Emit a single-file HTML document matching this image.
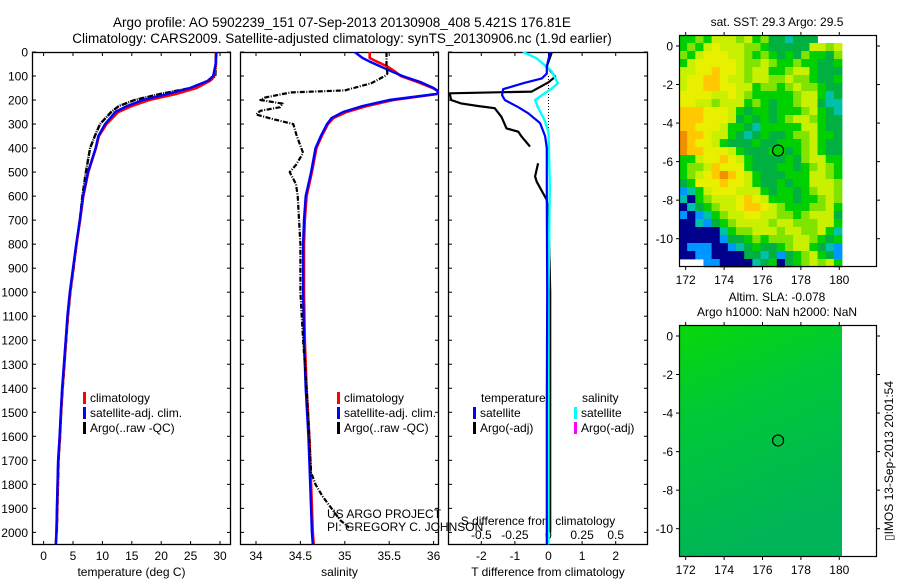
<!DOCTYPE html>
<html><head><meta charset="utf-8">
<style>
html,body{margin:0;padding:0;background:#fff;}
svg{display:block;font-family:"Liberation Sans",sans-serif;}
text{fill:#000;}
</style></head>
<body>
<svg id="chart" width="900" height="580" viewBox="0 0 900 580" xmlns="http://www.w3.org/2000/svg">
<text x="342" y="27" font-size="13.5" text-anchor="middle">Argo profile: AO 5902239_151 07-Sep-2013 20130908_408 5.421S 176.81E</text>
<text x="342" y="43" font-size="13.5" text-anchor="middle">Climatology: CARS2009. Satellite-adjusted climatology: synTS_20130906.nc (1.9d earlier)</text>
<text x="777" y="26" font-size="12" text-anchor="middle">sat. SST: 29.3 Argo: 29.5</text>
<text x="777" y="301" font-size="12" text-anchor="middle">Altim. SLA: -0.078</text>
<text x="777" y="316" font-size="12" text-anchor="middle">Argo h1000: NaN h2000: NaN</text>
<text transform="translate(893,461) rotate(-90)" font-size="12" text-anchor="middle">▯IMOS 13-Sep-2013 20:01:54</text>
<g id="g"></g>
</svg>
<script>
// ---- data ----
const depthTicks = [0,100,200,300,400,500,600,700,800,900,1000,1100,1200,1300,1400,1500,1600,1700,1800,1900,2000];
const tempTicks = [0,5,10,15,20,25,30];
const salTicks = [34,34.5,35,35.5,36];
const salTickLabels = ["34","34.5","35","35.5","36"];
const tdiffTicks = [-2,-1,0,1,2];
const sdiffTicks = [-0.5,-0.25,0,0.25,0.5];
const sdiffTickLabels = ["-0.5","-0.25","0","0.25","0.5"];

const depthsT = [0,50,100,120,150,175,200,225,250,300,350,400,500,600,700,800,900,1000,1100,1200,1300,1400,1500,1600,1700,1800,1900,2000,2050];
const climT = [29.3,29.3,29.0,28.3,26.0,22.5,18.0,15.0,12.7,10.7,9.4,8.9,7.6,6.75,6.2,5.6,5.05,4.5,4.1,3.8,3.5,3.2,2.96,2.75,2.5,2.4,2.3,2.2,2.1];
const satT = [29.35,29.25,28.85,27.9,24.9,21.1,16.9,14.2,12.2,10.45,9.3,8.85,7.55,6.7,6.15,5.55,5.0,4.45,4.05,3.75,3.45,3.15,2.92,2.72,2.47,2.37,2.27,2.17,2.07];
const argoTD = [0,50,100,120,150,175,200,225,250,300,350,400,500,600,700,800,900,1000,1100,1200,1300,1400,1500,1600,1700,1800,1900,2000];
const argoT = [29.4,29.3,29.2,28.3,25.0,19.8,15.5,12.8,11.5,9.6,8.7,7.9,7.2,6.6,6.15,5.6,5.1,4.55,4.15,3.85,3.55,3.25,3.0,2.8,2.55,2.45,2.35,2.25];

const depthsS = [0,25,40,60,80,100,125,150,165,175,200,225,250,275,300,350,400,500,600,700,800,1000,1200,1400,1600,1800,2000,2050];
const climS = [35.28,35.28,35.36,35.48,35.56,35.63,35.82,35.99,36.06,36.04,35.55,35.25,35.02,34.87,34.81,34.74,34.68,34.63,34.57,34.55,34.54,34.54,34.55,34.57,34.6,34.62,34.64,34.65];
const satS = [35.11,35.2,35.28,35.4,35.52,35.65,35.85,36.0,36.06,36.03,35.5,35.2,34.98,34.85,34.8,34.73,34.67,34.62,34.56,34.54,34.53,34.53,34.54,34.56,34.59,34.61,34.63,34.64];
const argoSD = [0,60,90,100,130,150,160,168,175,190,200,215,230,245,260,280,300,350,420,470,500,550,600,800,1000,1200,1400,1600,1750,1800,1850,1900,1950,1980];
const argoS = [35.47,35.47,35.48,35.45,35.3,35.1,35.0,34.4,34.3,34.1,34.05,34.3,34.27,34.05,34.0,34.2,34.42,34.46,34.53,34.45,34.38,34.45,34.47,34.5,34.5,34.53,34.57,34.6,34.62,34.67,34.75,34.85,34.95,35.05];

const tSatDD = [0,60,90,110,130,155,180,200,230,255,296,350,400,600,1000,1500,2050];
const tSatD = [0.05,-0.05,-0.05,-0.2,-0.75,-1.35,-1.38,-1.3,-0.9,-0.6,-0.25,-0.1,-0.05,-0.05,-0.04,-0.05,-0.05];
const sSatDD = [0,26,78,130,150,200,228,283,333,555,1000,2050];
const sSatD = [-0.19,-0.09,0.02,0.07,0.03,-0.1,-0.08,-0.03,0,0.01,0.0,0.0];
const tArgoDD = [0,60,103,126,165,172,200,214,225,234,270,318,332,352,394,430,463,518,540,616,672,1000,1500,2000];
const tArgoD = [0.1,-0.05,0.2,0,-0.5,-2.94,-2.9,-2.6,-2.1,-1.6,-1.4,-1.25,-0.9,-0.8,-0.55,null,-0.31,-0.4,-0.35,-0.05,0.0,0.05,0.05,0.05];

const mapLonTicks = [172,174,176,178,180];
const mapLatTicks = [0,-2,-4,-6,-8,-10];
const argoLon = 176.81, argoLat = -5.421;
const sstRows = [
"44546665645332333...",
"45467666554333336656",
"54677766545434354435",
"46777776556544544334",
"66778776566445664333",
"67788766566556554334",
"67788776645545655433",
"77776676544444566423",
"77665666454344566322",
"88877764344344456432",
"88877763434345665433",
"88777644324444466433",
"98876643234334556443",
"98776433343344456433",
"98877764333443456433",
"44677876433334356644",
"45568777433344345654",
"45678987643334446654",
"34777877643343446665",
"12467776664344345665",
"20456667876444344565",
"02345667887654445564",
"10124566776655456663",
"00213456666566555664",
"00000245566656655642",
"00000133454555665434",
"01110012343345664321",
"00110000332313456431",
"...11000023403456564"
];
const sstPalette = ["#00008c","#0096ff","#00c0a8","#00b040","#00d000","#80e400","#c8f000","#e8f000","#ffc800","#f09000"];

// ---- scales ----
const Y0=52, DY=0.2402;
const yD = d => Y0 + d*DY;
const P1={x0:32,x1:231}, P2={x0:240,x1:439}, P3={x0:448,x1:648}, TOP=52, BOT=545;
const xT = t => 43.6 + t*5.88;
const xS = s => 256 + (s-34)*88.8;
const xTd = d => 548.5 + d*33.6;
const xSd = d => 548.5 + d*134.4;
const M1={x0:679,x1:877,y0:35,y1:267}, M2={x0:679,x1:877,y0:325,y1:557};
const lonX = (M,lon) => M.x0 + 6.7 + (lon-172)*19.2;
const latY = (M,lat) => M.y0 + 11 + (-lat)*19.27;

const NS="http://www.w3.org/2000/svg";
const G=document.getElementById('g');
function el(tag,attrs,parent){const e=document.createElementNS(NS,tag);for(const k in attrs)e.setAttribute(k,attrs[k]);(parent||G).appendChild(e);return e;}
function txt(s,x,y,anchor,size,parent){const t=el('text',{x:x,y:y,'text-anchor':anchor,'font-size':size},parent);t.textContent=s;return t;}

const defs=el('defs',{});
[[P1,'c1'],[P2,'c2'],[P3,'c3']].forEach(([P,id])=>{const c=el('clipPath',{id:id},defs);el('rect',{x:P.x0,y:TOP,width:P.x1-P.x0,height:BOT-TOP},c);});

function panel(P,name,xticks,xfn,labels,title){
  const g=el('g',{});
  
  
  const fr=el('rect',{x:P.x0+0.5,y:TOP+0.5,width:P.x1-P.x0-1,height:BOT-TOP-1,fill:'none',stroke:'#000','stroke-width':1.3},g);
  
  
  depthTicks.forEach(d=>{const y=yD(d);
    el('line',{x1:P.x0,x2:P.x0+4,y1:y,y2:y,stroke:'#000'},g);
    el('line',{x1:P.x1-4,x2:P.x1,y1:y,y2:y,stroke:'#000'},g);});
  xticks.forEach((v,i)=>{const x=xfn(v);
    el('line',{x1:x,x2:x,y1:TOP,y2:TOP+4,stroke:'#000'},g);
    el('line',{x1:x,x2:x,y1:BOT-4,y2:BOT,stroke:'#000'},g);
    const t=txt(labels?labels[i]:String(v),x,560,'middle',12,g);
    
    });
  const tt=txt(title,(P.x0+P.x1)/2,576,'middle',12,g);
  
  
  return g;
}
panel(P1,'temperature-panel',tempTicks,xT,null,'temperature (deg C)');
panel(P2,'salinity-panel',salTicks,xS,salTickLabels,'salinity');
panel(P3,'difference-panel',tdiffTicks,xTd,null,'T difference from climatology');
depthTicks.forEach(d=>{const t=txt(String(d),28,yD(d)+4.5,'end',12);
  
  });
sdiffTicks.forEach((v,i)=>{const t=txt(sdiffTickLabels[i],xSd(v),539,'middle',12);
  
  });
{const t=txt('S difference from climatology',538,525,'middle',12);

}

function line(xs,ds,xfn,color,w,clip,name,dash){
  let d='',pen=false;
  for(let i=0;i<xs.length;i++){
    if(xs[i]===null){pen=false;continue;}
    d+=(pen?'L':'M')+xfn(xs[i]).toFixed(1)+','+yD(ds[i]).toFixed(1);pen=true;}
  const p=el('path',{d:d,fill:'none',stroke:color,'stroke-width':w,'clip-path':'url(#'+clip+')','stroke-linejoin':'round'});
  if(dash)p.setAttribute('stroke-dasharray',dash);
  
  
  return p;
}
line(argoT,argoTD,xT,'#000',2.4,'c1','argo-temperature-line','6,1,1,1');
line(climT,depthsT,xT,'#ff0000',2.6,'c1','climatology-temperature-line');
line(satT,depthsT,xT,'#0000ff',2.4,'c1','satellite-temperature-line');
line(climS,depthsS,xS,'#ff0000',2.6,'c2','climatology-salinity-line');
line(satS,depthsS,xS,'#0000ff',2.4,'c2','satellite-salinity-line');
line(argoS,argoSD,xS,'#000',2.2,'c2','argo-salinity-line','5,1.5,1,1.5');
{const z=el('line',{x1:xTd(0),x2:xTd(0),y1:yD(100),y2:yD(420),stroke:'#000','stroke-dasharray':'1,2'});

}
line(tArgoD,tArgoDD,xTd,'#000',2.2,'c3','argo-temperature-difference-line');
line(sSatD,sSatDD,xSd,'#00ffff',2.4,'c3','satellite-salinity-difference-line');
line(tSatD,tSatDD,xTd,'#0000ff',2.2,'c3','satellite-temperature-difference-line');

function legend(x,y,color,label,name){
  const g=el('g',{});
  
  
  el('rect',{x:x,y:y-10,width:3,height:12,fill:color},g);
  txt(label,x+7,y,'start',12,g);
}
legend(83,402,'#ff0000','climatology','legend-climatology');
legend(83,417,'#0000ff','satellite-adj. clim.','legend-satellite');
legend(83,432,'#000','Argo(..raw -QC)','legend-argo');
legend(337,402,'#ff0000','climatology','legend-climatology-sal');
legend(337,417,'#0000ff','satellite-adj. clim.','legend-satellite-sal');
legend(337,432,'#000','Argo(..raw -QC)','legend-argo-sal');
{const t=txt('temperature',481,402,'start',12);
const s=txt('salinity',582,402,'start',12);}
legend(473,417,'#0000ff','satellite','legend-t-satellite');
legend(473,432,'#000','Argo(-adj)','legend-t-argo');
legend(574,417,'#00ffff','satellite','legend-s-satellite');
legend(574,432,'#ff00ff','Argo(-adj)','legend-s-argo');
{const a=txt('US ARGO PROJECT',327,518,'start',12);
const b=txt('PI: GREGORY C. JOHNSON',327,531,'start',12);}

function mapFrame(M,name){
  const g=el('g',{});
  
  
  return g;
}
function mapAxes(M,g){
  el('rect',{x:M.x0+0.5,y:M.y0+0.5,width:M.x1-M.x0-1,height:M.y1-M.y0-1,fill:'none',stroke:'#000','stroke-width':1.2},g);
  mapLonTicks.forEach(l=>{const x=lonX(M,l);
    el('line',{x1:x,x2:x,y1:M.y0-3,y2:M.y0,stroke:'#000'},g);
    el('line',{x1:x,x2:x,y1:M.y1,y2:M.y1+3,stroke:'#000'},g);
    const t=txt(String(l),x,M.y1+17,'middle',12,g);
    
    });
  mapLatTicks.forEach(l=>{const y=latY(M,l);
    el('line',{x1:M.x0-3,x2:M.x0,y1:y,y2:y,stroke:'#000'},g);
    el('line',{x1:M.x1,x2:M.x1+3,y1:y,y2:y,stroke:'#000'},g);
    const t=txt(String(l),M.x0-6,y+4.5,'end',12,g);
    
    });
  const c=el('circle',{cx:lonX(M,argoLon),cy:latY(M,argoLat),r:5.5,fill:'none',stroke:'#000','stroke-width':1.2},g);
  
  
}
const g1=mapFrame(M1,'sst-map');
const cw=(842-M1.x0)/20, ch=(M1.y1-M1.y0)/29;
sstRows.forEach((row,r)=>{for(let c=0;c<row.length;c++){const k=row[c]; if(k==='.')continue;
  const cell=el('rect',{x:(M1.x0+c*cw).toFixed(2),y:(M1.y0+r*ch).toFixed(2),width:(cw+0.4).toFixed(2),height:(ch+0.4).toFixed(2),fill:sstPalette[+k]},g1);
  
  }});
mapAxes(M1,g1);

const g2=mapFrame(M2,'sla-map');
const lg=el('linearGradient',{id:'slag',x1:'0',y1:'0',x2:'0.3',y2:'1'},defs);
el('stop',{offset:'0','stop-color':'#08d808'},lg);
el('stop',{offset:'0.4','stop-color':'#00c838'},lg);
el('stop',{offset:'1','stop-color':'#00b458'},lg);
{const r=el('rect',{x:M2.x0,y:M2.y0,width:842-M2.x0,height:M2.y1-M2.y0,fill:'url(#slag)'},g2);

}
mapAxes(M2,g2);
</script>
</body></html>
